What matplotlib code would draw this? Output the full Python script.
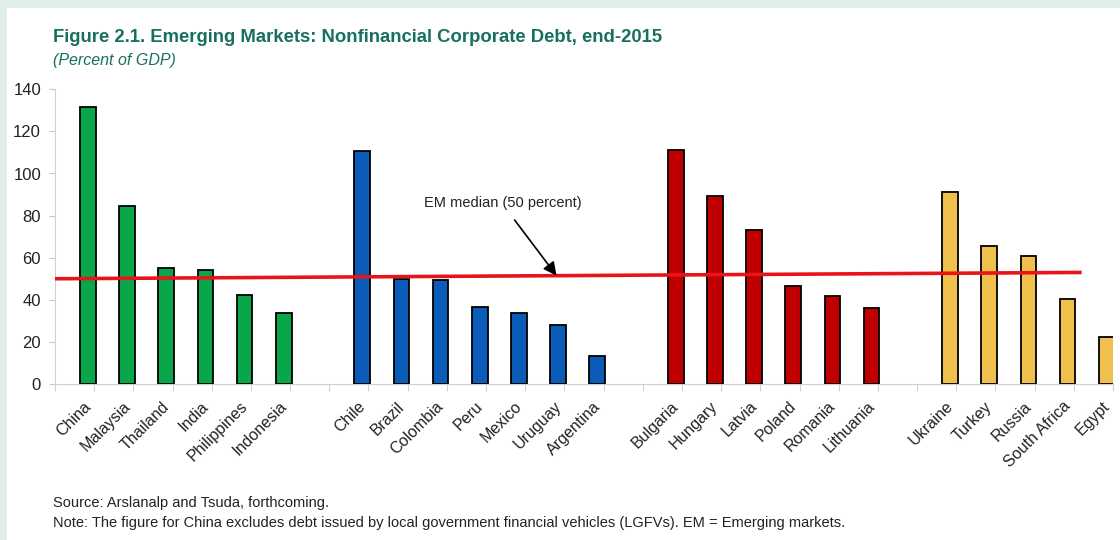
import numpy as np
import matplotlib
matplotlib.use("Agg")
import matplotlib.pyplot as plt
from matplotlib.patches import Rectangle

plt.rcParams['font.family'] = ['Liberation Sans', 'DejaVu Sans']

# ---- data ----
asia = ["China", "Malaysia", "Thailand", "India", "Philippines", "Indonesia"]
asia_vals = [131.7, 84.7, 54.9, 54.3, 42.2, 33.5]
latam = ["Chile", "Brazil", "Colombia", "Peru", "Mexico", "Uruguay", "Argentina"]
latam_vals = [110.8, 49.9, 49.6, 36.7, 33.7, 28.2, 13.5]
europe = ["Bulgaria", "Hungary", "Latvia", "Poland", "Romania", "Lithuania"]
europe_vals = [111.0, 89.2, 73.2, 46.6, 42.0, 36.3]
other = ["Ukraine", "Turkey", "Russia", "South Africa", "Egypt"]
other_vals = [91.2, 65.6, 61.0, 40.2, 22.2]
median_start, median_end = 50.0, 53.0
yticks = [0, 20, 40, 60, 80, 100, 120, 140]

groups = [(asia, asia_vals, "#0aa64a"),
          (latam, latam_vals, "#0b5cb8"),
          (europe, europe_vals, "#c00000"),
          (other, other_vals, "#f0c04c")]

fig = plt.figure(figsize=(11.2, 5.4), dpi=100)
fig.patch.set_facecolor("white")
# light green frame strips
fig.patches.append(Rectangle((0, 1 - 8/540), 1, 8/540, transform=fig.transFigure,
                             facecolor="#e0f0e8", edgecolor="none", zorder=0))
fig.patches.append(Rectangle((0, 0), 7/1120, 1, transform=fig.transFigure,
                             facecolor="#e0f0e8", edgecolor="none", zorder=0))

ax = fig.add_axes([55/1120, 1 - 384/540, (1113 - 55)/1120, (384 - 89.3)/540])

labels_all = []
pos_all = []
slot = 0
offset = 0.34
for names, vals, col in groups:
    idx = np.arange(len(names)) + slot
    x = idx + offset
    ax.bar(x, vals, width=0.4, color=col, edgecolor="black", linewidth=1.3, zorder=3)
    labels_all += names
    pos_all += list(x)
    slot += len(names) + 1
nslots = slot - 1

ax.set_xlim(-0.5, nslots - 0.5)
ax.set_ylim(0, 140)
ax.set_yticks(yticks)
ax.tick_params(axis='y', labelsize=12, length=4, color="#c8c8c8", pad=6, labelcolor="#222222")

ax.set_xticks(np.arange(-0.5, nslots, 1.0))
ax.set_xticklabels([])
ax.tick_params(axis='x', length=5, color="#d0d0d0", direction='out')
for x, lab in zip(pos_all, labels_all):
    ax.text(x - 0.12, -7, lab, rotation=45, ha='right', va='top', rotation_mode='anchor',
            fontsize=11.5, color="#222222", transform=ax.transData, clip_on=False)

for s in ["top", "right"]:
    ax.spines[s].set_visible(False)
ax.spines["left"].set_color("#d0d0d0")
ax.spines["bottom"].set_color("#d0d0d0")

# median line
x_end = 25.7
ax.plot([-0.5, x_end], [median_start, median_end], color="#e8141a", linewidth=2.6, zorder=4,
        solid_capstyle='butt')
slope = (median_end - median_start) / (x_end + 0.5)
tip_x = 12.3
tip_y = median_start + slope * (tip_x + 0.5)
ax.annotate("", xy=(tip_x, tip_y), xytext=(11.23, 77.9),
            arrowprops=dict(arrowstyle='-|>', color='black', lw=1.2, mutation_scale=20,
                            shrinkA=0, shrinkB=0), zorder=5)
ax.text(10.93, 86, "EM median (50 percent)", ha='center', va='center', fontsize=10.5,
        color="#222222")

fig.text(53/1120, 1 - 37/540, "Figure 2.1. Emerging Markets: Nonfinancial Corporate Debt, end-2015",
         fontsize=13.3, fontweight='bold', color="#17705f", va='center', ha='left')
fig.text(53/1120, 1 - 60/540, "(Percent of GDP)", fontsize=11.5, style='italic',
         color="#17705f", va='center', ha='left')
fig.text(53/1120, 1 - 503/540, "Source: Arslanalp and Tsuda, forthcoming.",
         fontsize=10.5, color="#222222", va='center', ha='left')
fig.text(53/1120, 1 - 523/540,
         "Note: The figure for China excludes debt issued by local government financial vehicles (LGFVs). EM = Emerging markets.",
         fontsize=10.5, color="#222222", va='center', ha='left')

fig.savefig("out.png", dpi=100, facecolor=fig.get_facecolor())
